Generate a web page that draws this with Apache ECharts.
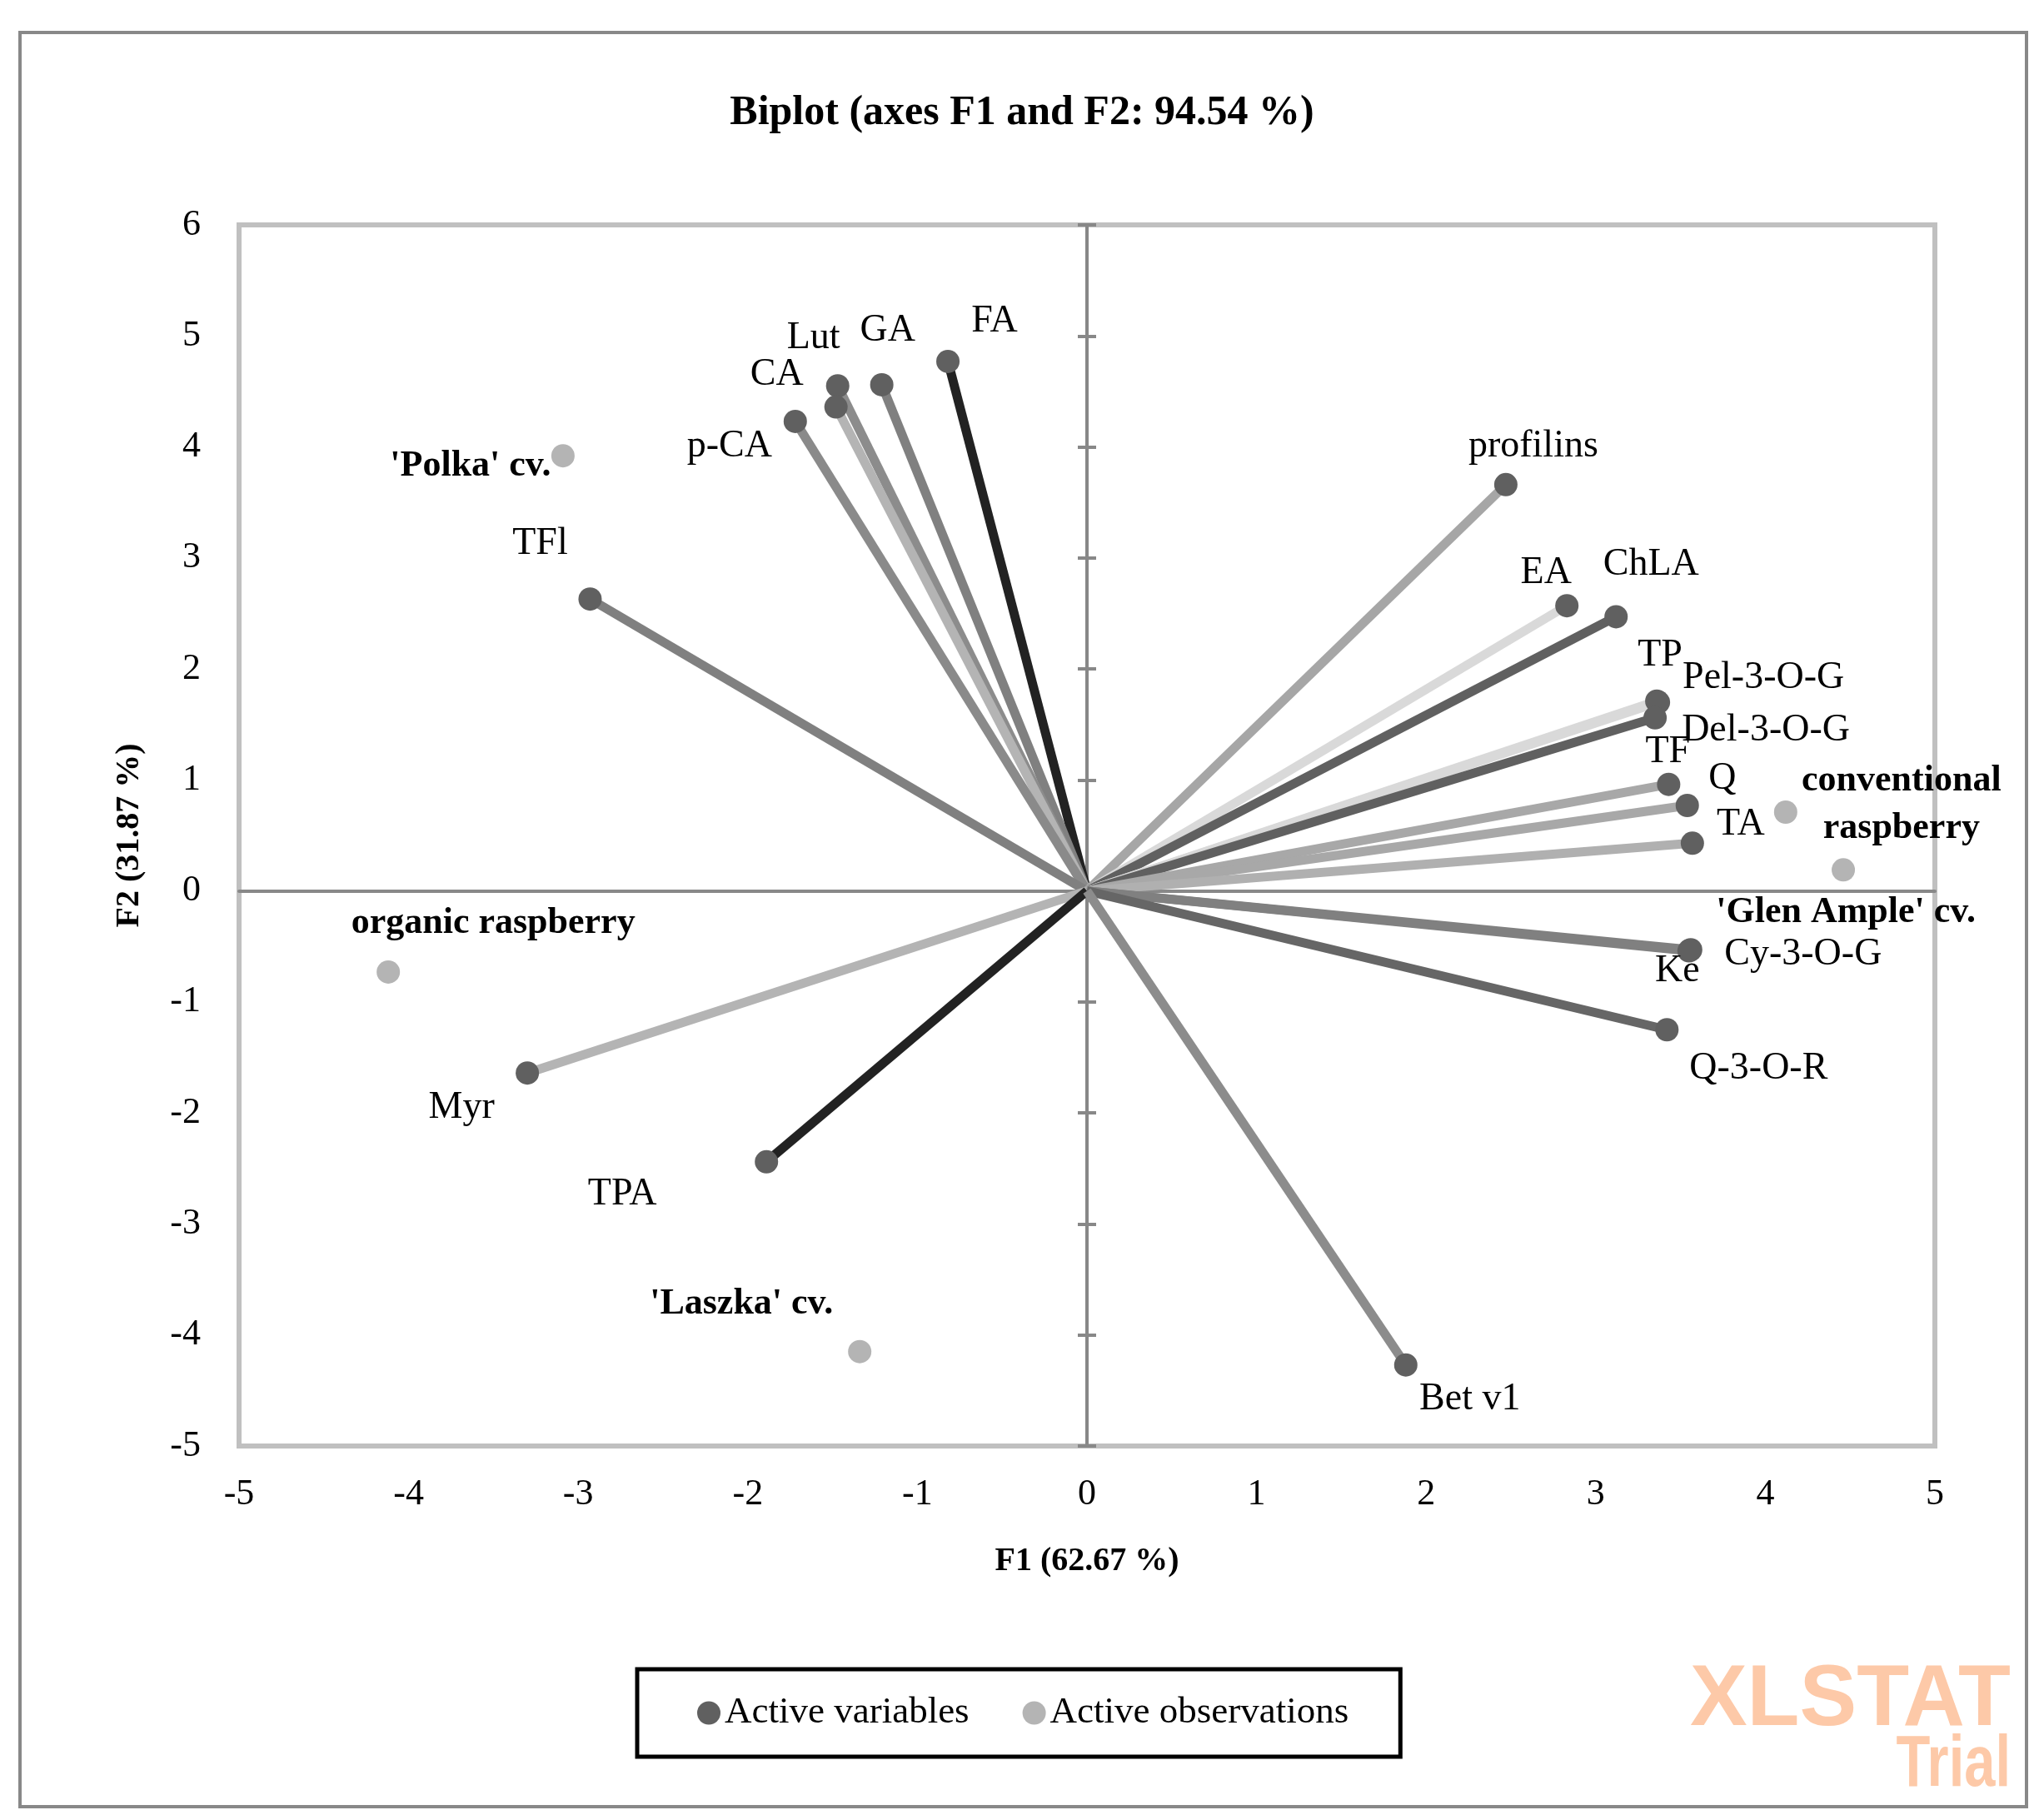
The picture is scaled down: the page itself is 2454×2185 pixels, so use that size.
<!DOCTYPE html>
<html>
<head>
<meta charset="utf-8">
<script src="https://cdn.jsdelivr.net/npm/echarts@6/dist/echarts.min.js"></script>
<style>
  html, body { margin: 0; padding: 0; background: #fff; }
  #biplot { width: 2454px; height: 2185px; }
</style>
</head>
<body>
<div id="biplot"></div>
<script>
// active variables (loadings drawn as vectors from the origin)
var varNames = ['FA', 'GA', 'Lut', 'CA', 'p-CA', 'TFl', 'profilins', 'EA', 'ChLA',
  'TP', 'Pel-3-O-G', 'Del-3-O-G', 'TF', 'Q', 'TA', 'Ke', 'Cy-3-O-G', 'Q-3-O-R',
  'Myr', 'TPA', 'Bet v1'];
var varF1 = [-0.82, -1.21, -1.47, -1.48, -1.72, -2.93, 2.47, 2.83, 3.12,
  3.36, 3.37, 3.35, 3.43, 3.54, 3.57, 3.55, 3.56, 3.42,
  -3.30, -1.89, 1.88];
var varF2 = [4.77, 4.56, 4.55, 4.36, 4.23, 2.63, 3.66, 2.57, 2.47,
  1.71, 1.70, 1.56, 0.96, 0.77, 0.43, -0.54, -0.53, -1.25,
  -1.64, -2.44, -4.27];

// active observations
var obsNames = ["'Polka' cv.", 'organic raspberry', "'Laszka' cv.", 'conventional raspberry', "'Glen Ample' cv."];
var obsF1 = [-3.09, -4.12, -1.34, 4.12, 4.46];
var obsF2 = [3.92, -0.73, -4.15, 0.71, 0.19];

// axis ranges
var xRange = [-5, 5];
var yRange = [-5, 6];

// styling
var varLineColors = ['#222222', '#808080', '#8c8c8c', '#b4b4b4', '#8a8a8a', '#808080', '#a6a6a6', '#d9d9d9', '#606060',
  '#d9d9d9', '#d9d9d9', '#606060', '#a8a8a8', '#a8a8a8', '#b0b0b0', '#808080', '#808080', '#666666',
  '#b4b4b4', '#222222', '#8c8c8c'];
var varLabelOffsets = [[56, -48], [7, -65], [-29, -57], [-71, -39], [-79, 30], [-60, -66], [33, -46], [-25, -39], [42, -63],
  [4, -55], [126, -29], [133, 15], [-1, -39], [42, -32], [58, -22], [-14, 24], [135, 6], [110, 47],
  [-79, 42], [-173, 39], [77, 41]];
var obsLabelOffsets = [[-111, 12], [126, -58], [-142, -57], [139, -9], [3, 51]];

var serif = '"Liberation Serif", "Times New Roman", serif';
var txt = { fontFamily: serif, fontSize: 46, color: '#000', opacity: 1, textBorderWidth: 0, textBorderColor: 'transparent' };

var chart = echarts.init(document.getElementById('biplot'));

var series = [];
varNames.forEach(function (name, i) {
  series.push({
    type: 'line',
    name: 'Active variables',
    symbol: 'circle',
    symbolSize: 28,
    showAllSymbol: true,
    lineStyle: { color: varLineColors[i], width: 11 },
    itemStyle: { color: '#606060' },
    emphasis: { disabled: true },
    data: [
      { value: [0, 0], symbol: 'none' },
      {
        value: [varF1[i], varF2[i]],
        name: name,
        label: Object.assign({ show: true, position: 'inside', offset: varLabelOffsets[i], formatter: name }, txt)
      }
    ]
  });
});

series.push({
  type: 'scatter',
  name: 'Active observations',
  symbolSize: 28,
  itemStyle: { color: '#b4b4b4', opacity: 1 },
  emphasis: { disabled: true },
  data: obsNames.map(function (name, i) {
    return {
      name: name,
      value: [obsF1[i], obsF2[i]],
      label: Object.assign({}, txt, {
        show: true, position: 'inside', offset: obsLabelOffsets[i],
        fontWeight: 'bold', fontSize: 44, lineHeight: 57, align: 'center',
        formatter: name === 'conventional raspberry' ? 'conventional\nraspberry' : name
      })
    };
  })
});

var zeroLine = { color: '#888888', width: 4 };
var axisLabelFont = { fontFamily: serif, fontSize: 44, color: '#000' };

var option = {
  animation: false,
  backgroundColor: '#fff',
  title: {
    text: 'Biplot (axes F1 and F2: 94.54 %)',
    left: 'center',
    top: 106,
    textStyle: { fontFamily: serif, fontWeight: 'bold', fontSize: 50, color: '#000' }
  },
  grid: {
    left: 287, right: 131, top: 270, bottom: 449,
    show: true, borderColor: '#c0c0c0', borderWidth: 6, backgroundColor: 'transparent'
  },
  legend: {
    left: 765, top: 2004,
    itemWidth: 28, itemHeight: 28, itemGap: 64,
    padding: [30, 62, 30, 72],
    borderColor: '#000', borderWidth: 5,
    textStyle: { fontFamily: serif, fontSize: 45, color: '#000' },
    data: [
      { name: 'Active variables', icon: 'circle', itemStyle: { color: '#606060' } },
      { name: 'Active observations', icon: 'circle', itemStyle: { color: '#b4b4b4' } }
    ]
  },
  xAxis: [
    {
      type: 'value', min: xRange[0], max: xRange[1], interval: 1, position: 'bottom',
      axisLine: { show: false, onZero: false }, axisTick: { show: false }, splitLine: { show: false },
      axisLabel: Object.assign({ margin: 36 }, axisLabelFont),
      name: 'F1 (62.67 %)', nameLocation: 'middle', nameGap: 119,
      nameTextStyle: { fontFamily: serif, fontWeight: 'bold', fontSize: 40, color: '#000' }
    },
    {
      type: 'value', min: xRange[0], max: xRange[1], interval: 1, position: 'bottom',
      axisLine: { onZero: true, lineStyle: zeroLine }, axisTick: { show: false },
      axisLabel: { show: false }, splitLine: { show: false }
    }
  ],
  yAxis: [
    {
      type: 'value', min: yRange[0], max: yRange[1], interval: 1, position: 'left',
      axisLine: { show: false, onZero: false }, axisTick: { show: false }, splitLine: { show: false },
      axisLabel: Object.assign({ margin: 46 }, axisLabelFont),
      name: 'F2 (31.87 %)', nameLocation: 'middle', nameGap: 111, nameRotate: 90,
      nameTextStyle: { fontFamily: serif, fontWeight: 'bold', fontSize: 40, color: '#000' }
    },
    {
      type: 'value', min: yRange[0], max: yRange[1], interval: 1, position: 'left',
      axisLine: { onZero: true, lineStyle: zeroLine },
      axisTick: { show: true, length: 11, lineStyle: zeroLine },
      axisLabel: { show: false }, splitLine: { show: false }
    },
    {
      type: 'value', min: yRange[0], max: yRange[1], interval: 1, position: 'right',
      axisLine: { onZero: true, lineStyle: zeroLine },
      axisTick: { show: true, length: 11, lineStyle: zeroLine },
      axisLabel: { show: false }, splitLine: { show: false }
    }
  ],
  graphic: [
    {
      type: 'rect', z: -10,
      shape: { x: 24, y: 39, width: 2409, height: 2130 },
      style: { fill: 'none', stroke: '#888888', lineWidth: 4 }
    },
    {
      type: 'text', x: 2414, y: 1990, scaleX: 0.99,
      style: { text: 'XLSTAT', align: 'right', verticalAlign: 'top', font: 'bold 104px "Liberation Sans", sans-serif', fill: '#fdc9a8' }
    },
    {
      type: 'text', x: 2414, y: 2076, scaleX: 0.76,
      style: { text: 'Trial', align: 'right', verticalAlign: 'top', font: 'bold 88px "Liberation Sans", sans-serif', fill: '#fdc9a8' }
    }
  ],
  series: series
};

chart.setOption(option);
</script>
</body>
</html>
